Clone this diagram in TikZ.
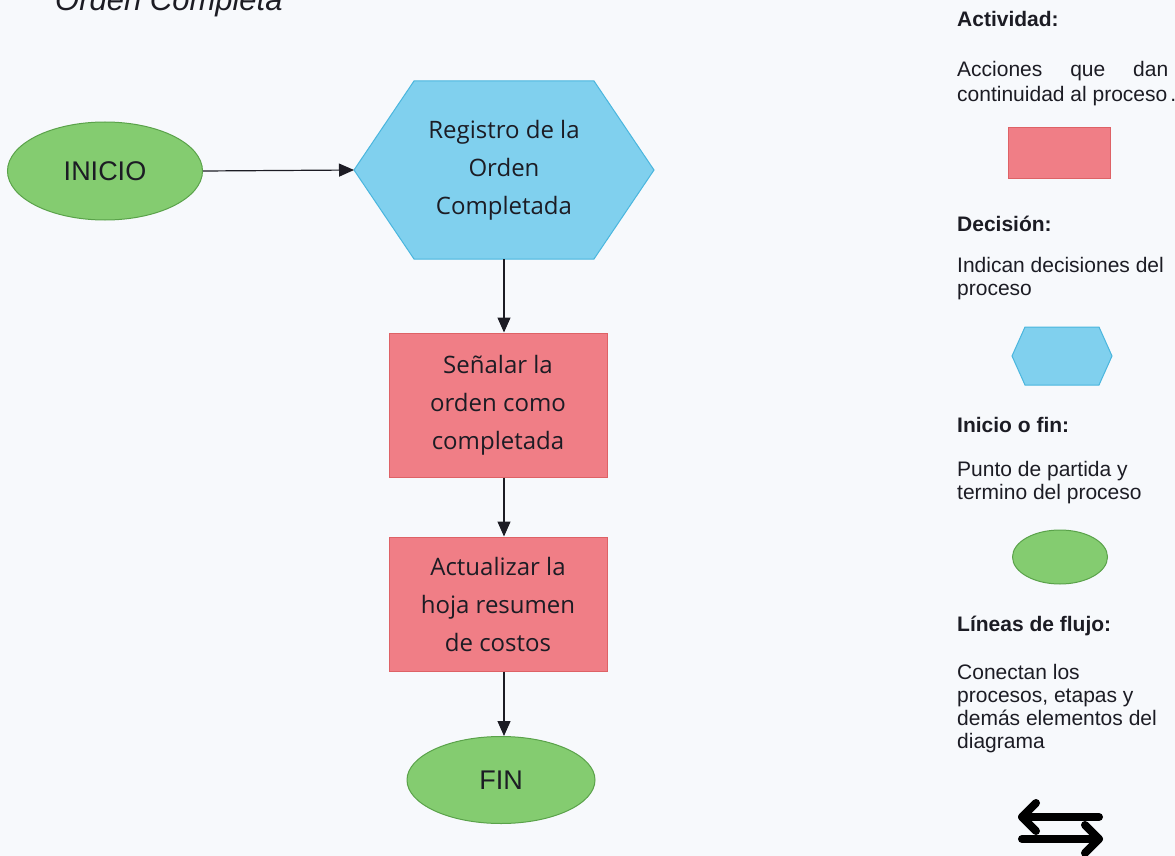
\documentclass[tikz,border=0pt]{standalone}
\usepackage{fontspec}
\setmainfont{Liberation Sans}
\newfontfamily\boxfont{Open Sans}
\usetikzlibrary{arrows.meta,shapes.geometric}

\definecolor{paper}{RGB}{247,249,252}
\definecolor{termfill}{RGB}{132,204,112}
\definecolor{termline}{RGB}{90,162,74}
\definecolor{decfill}{RGB}{128,208,238}
\definecolor{decline}{RGB}{74,182,222}
\definecolor{actfill}{RGB}{240,126,134}
\definecolor{actline}{RGB}{222,98,102}
\definecolor{ink}{RGB}{28,28,36}

\begin{document}
\begin{tikzpicture}[x=1pt,y=-1pt,
  terminal/.style={ellipse, draw=termline, fill=termfill, line width=1pt,
    inner sep=0pt, text=ink, font=\fontsize{27}{30}\selectfont},
  activity/.style={rectangle, draw=actline, fill=actfill, line width=1pt,
    inner sep=0pt, minimum width=218pt, text=ink, align=center,
    font=\boxfont\fontsize{24}{38}\selectfont},
  decision/.style={draw=decline, fill=decfill, line width=1pt, line join=miter},
  dectext/.style={rectangle, inner sep=0pt, text=ink, align=center,
    font=\boxfont\fontsize{24}{38}\selectfont},
  flow/.style={line width=1.2pt, draw=ink, -{Triangle[length=15pt,width=13pt]}},
  legendhead/.style={anchor=base west, inner sep=0pt, text=ink,
    font=\bfseries\fontsize{21}{25}\selectfont},
  legendtext/.style={anchor=base west, inner sep=0pt, text=ink,
    font=\fontsize{21}{25}\selectfont},
  swap/.style={line width=8pt, line cap=round, line join=round, draw=black}
]
\useasboundingbox (0,0) rectangle (1175,856);
\fill[paper] (0,0) rectangle (1175,856);

% title (runs past the top edge of the page)
\node[anchor=base west, inner sep=0pt, text=ink,
  font=\itshape\fontsize{31}{36}\selectfont] (title) at (55,11) {Orden Completa};

% ---- flow ----
\node[terminal, minimum width=195pt, minimum height=98pt] (ini) at (105,171) {INICIO};

% decision hexagon
\coordinate (regC) at (504,170);
\path[decision] ([shift={(-150,0)}]regC) -- ([shift={(-90,-89)}]regC)
  -- ([shift={(90,-89)}]regC) -- ([shift={(150,0)}]regC)
  -- ([shift={(90,89)}]regC) -- ([shift={(-90,89)}]regC) -- cycle;
\coordinate (regW) at ([shift={(-150,0)}]regC);
\node[dectext, minimum width=180pt, minimum height=178pt] (reg) at (regC)
  {Registro de la\\Orden\\Completada};

\node[activity, minimum height=144pt] (mark) at (498,405)
  {Señalar la\\orden como\\completada};
\node[activity, minimum height=134pt] (upd) at (498,604)
  {Actualizar la\\hoja resumen\\de costos};
\node[terminal, minimum width=188pt, minimum height=87pt] (fin) at (501,780) {FIN};

\draw[flow] (ini.east) -- (regW);
\draw[flow] (reg.south) -- (reg.south |- mark.north);
\draw[flow] (reg.south |- mark.south) -- (reg.south |- upd.north);
\draw[flow] (reg.south |- upd.south) -- (reg.south |- fin.north);

% ---- legend ----
\node[legendhead] (lgA) at (957,27) {Actividad:};
\node[legendtext] (lgA1) at (957,77) {\hbox to 211pt{Acciones\hfill que\hfill dan}};
\node[legendtext] (lgA2) at (957,102) {continuidad al proceso\hspace{3pt}.};
\node[rectangle, draw=actline, fill=actfill, line width=1pt,
  minimum width=102pt, minimum height=50pt] (lgAbox) at (1059,153) {};

\node[legendhead] (lgD) at (957,231) {Decisión:};
\node[legendtext] (lgD1) at (957,272) {Indican decisiones del};
\node[legendtext] (lgD2) at (957,295) {proceso};
\coordinate (lgHexC) at (1062,356);
\path[decision] ([shift={(-50,0)}]lgHexC) -- ([shift={(-37,-29)}]lgHexC)
  -- ([shift={(37,-29)}]lgHexC) -- ([shift={(50,0)}]lgHexC)
  -- ([shift={(37,29)}]lgHexC) -- ([shift={(-37,29)}]lgHexC) -- cycle;

\node[legendhead] (lgI) at (957,432) {Inicio o fin:};
\node[legendtext] (lgI1) at (957,476) {Punto de partida y};
\node[legendtext] (lgI2) at (957,499) {termino del proceso};
\node[ellipse, draw=termline, fill=termfill, line width=1pt,
  minimum width=95pt, minimum height=54pt] (lgEll) at (1060,557) {};

\node[legendhead] (lgL) at (957,631) {Líneas de flujo:};
\node[legendtext] (lgL1) at (957,679) {Conectan los};
\node[legendtext] (lgL2) at (957,702) {procesos, etapas y};
\node[legendtext] (lgL3) at (957,725) {demás elementos del};
\node[legendtext] (lgL4) at (957,748) {diagrama};

% swap-arrows icon
\draw[swap] (1099,817) -- (1022,817);
\draw[swap] (1036,803) -- (1022,817) -- (1036,831);
\draw[swap] (1022,839) -- (1099,839);
\draw[swap] (1085,825) -- (1099,839) -- (1085,853);
\end{tikzpicture}
\end{document}
